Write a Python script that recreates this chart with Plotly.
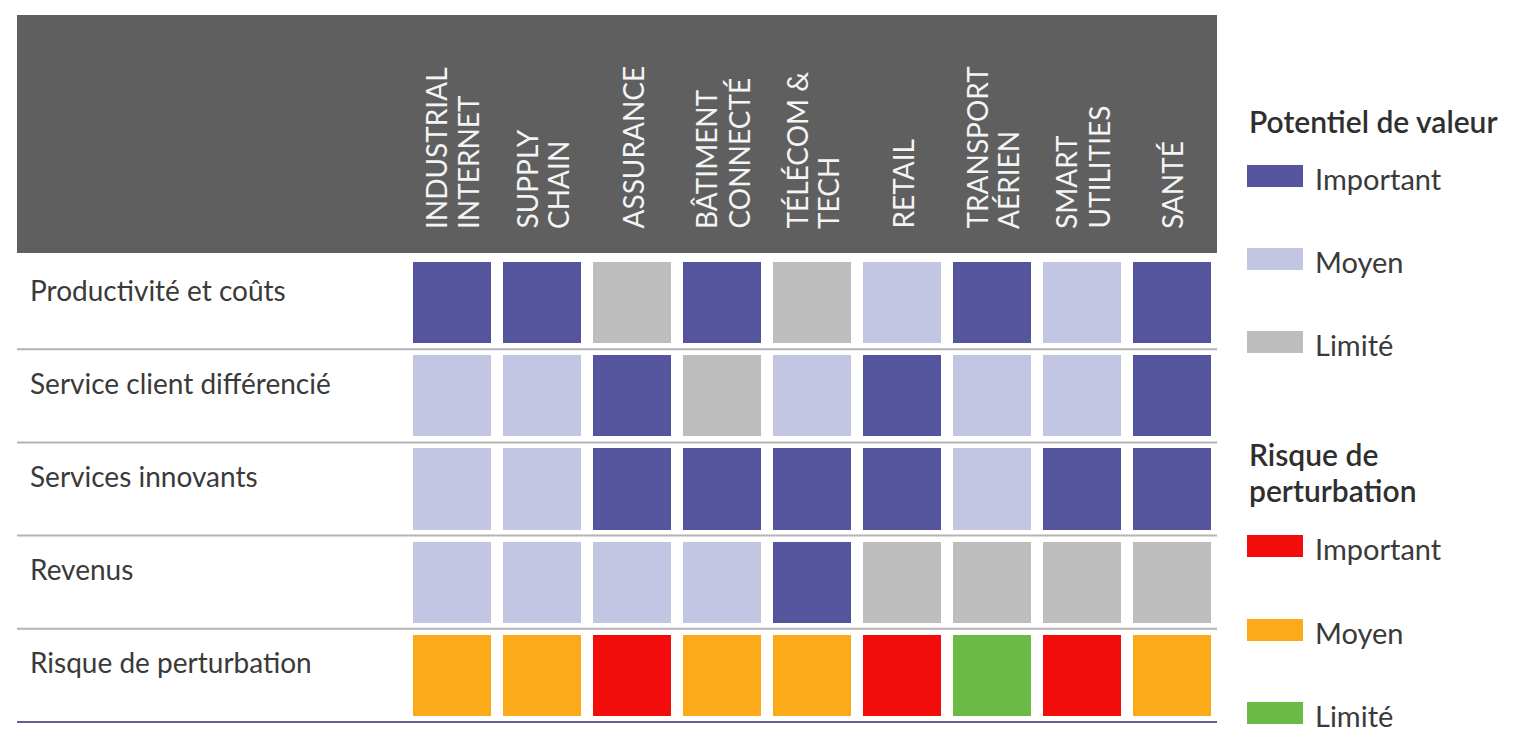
import plotly.graph_objects as go

# Secteurs (colonnes) et leviers de valeur (lignes)
secteurs = [
    "INDUSTRIAL<br>INTERNET",
    "SUPPLY<br>CHAIN",
    "ASSURANCE",
    "BÂTIMENT<br>CONNECTÉ",
    "TÉLÉCOM &<br>TECH",
    "RETAIL",
    "TRANSPORT<br>AÉRIEN",
    "SMART<br>UTILITIES",
    "SANTÉ",
]
leviers = [
    "Productivité et coûts",
    "Service client différencié",
    "Services innovants",
    "Revenus",
    "Risque de perturbation",
]

# Niveaux par ligne, dans l'ordre des secteurs
productivite = ["Important", "Important", "Limité", "Important", "Limité", "Moyen", "Important", "Moyen", "Important"]
service_client = ["Moyen", "Moyen", "Important", "Limité", "Moyen", "Important", "Moyen", "Moyen", "Important"]
services_innovants = ["Moyen", "Moyen", "Important", "Important", "Important", "Important", "Moyen", "Important", "Important"]
revenus = ["Moyen", "Moyen", "Moyen", "Moyen", "Important", "Limité", "Limité", "Limité", "Limité"]
risque = ["Moyen", "Moyen", "Important", "Moyen", "Moyen", "Important", "Limité", "Important", "Moyen"]

niveaux = ["Important", "Moyen", "Limité"]
couleurs_valeur = ["#55559e", "#c3c6e3", "#bdbdbd"]
couleurs_risque = ["#f20c0c", "#fbab1a", "#6bba45"]

# Codes : 0-2 potentiel de valeur, 3-5 risque de perturbation
lignes_valeur = [productivite, service_client, services_innovants, revenus]
z = [[niveaux.index(v) for v in ligne] for ligne in lignes_valeur]
z.append([3 + niveaux.index(v) for v in risque])

palette = couleurs_valeur + couleurs_risque
n = len(palette)
colorscale = []
for k, c in enumerate(palette):
    colorscale.append([k / n, c])
    colorscale.append([(k + 1) / n, c])

W, H = 1519, 735
ML, MR, MT, MB = 407, 302, 256, 12
PH = H - MT - MB


def px_to_paper_x(px):
    return (px - ML) / (W - ML - MR)


def px_to_paper_y(py):
    return (H - MB - py) / PH


fig = go.Figure(
    go.Heatmap(
        z=z,
        x=secteurs,
        y=leviers,
        colorscale=colorscale,
        zmin=0,
        zmax=n - 1,
        showscale=False,
        xgap=12,
        ygap=12,
        hoverinfo="skip",
    )
)

shapes = []
# Bandeau gris des en-têtes
shapes.append(dict(
    type="rect", xref="paper", yref="paper",
    x0=px_to_paper_x(17), x1=px_to_paper_x(1217),
    y0=px_to_paper_y(253), y1=px_to_paper_y(15),
    fillcolor="#5f5f5f", line=dict(width=0), layer="below",
))
# Séparateurs entre lignes
for i in range(1, len(leviers)):
    shapes.append(dict(
        type="line", xref="paper", yref="y",
        x0=px_to_paper_x(17), x1=px_to_paper_x(1217),
        y0=i - 0.5, y1=i - 0.5,
        line=dict(color="#b3b3b3", width=2), layer="below",
    ))
shapes.append(dict(
    type="line", xref="paper", yref="y",
    x0=px_to_paper_x(17), x1=px_to_paper_x(1217),
    y0=len(leviers) - 0.5, y1=len(leviers) - 0.5,
    line=dict(color="#5e6391", width=2), layer="below",
))

annotations = []
FONT = "Lato, 'Open Sans', sans-serif"
# Libellés des lignes
for lev in leviers:
    annotations.append(dict(
        text=lev, xref="paper", yref="y", x=px_to_paper_x(28), y=lev,
        xanchor="left", yanchor="middle", yshift=13, showarrow=False,
        font=dict(family=FONT, size=28, color="#3a3a3a"),
    ))
# En-têtes de colonnes verticaux, une annotation par ligne de texte
ECART = 32
for s in secteurs:
    morceaux = s.split("<br>")
    k = len(morceaux)
    for j, m in enumerate(morceaux):
        annotations.append(dict(
            text=m, xref="x", yref="paper", x=s, y=px_to_paper_y(231),
            xanchor="center", yanchor="bottom", textangle=-90,
            xshift=(j - (k - 1) / 2) * ECART, showarrow=False,
            font=dict(family=FONT, size=28, color="#f4f4f4"),
        ))

# Légende
def bloc_legende(titre_lignes, titre_y, swatch_y, couleurs):
    for t, ty in zip(titre_lignes, titre_y):
        annotations.append(dict(
            text=t, xref="paper", yref="paper",
            x=px_to_paper_x(1247), y=px_to_paper_y(ty),
            xanchor="left", yanchor="middle", showarrow=False,
            font=dict(family=FONT, size=30, color="#2f2f2f", weight=600),
        ))
    for niv, c, sy in zip(niveaux, couleurs, swatch_y):
        shapes.append(dict(
            type="rect", xref="paper", yref="paper",
            x0=px_to_paper_x(1247), x1=px_to_paper_x(1303),
            y0=px_to_paper_y(sy + 11), y1=px_to_paper_y(sy - 11),
            fillcolor=c, line=dict(width=0),
        ))
        annotations.append(dict(
            text=niv, xref="paper", yref="paper",
            x=px_to_paper_x(1313), y=px_to_paper_y(sy + 2),
            xanchor="left", yanchor="middle", showarrow=False,
            font=dict(family=FONT, size=29, color="#3a3a3a"),
        ))


bloc_legende(["Potentiel de valeur"], [121], [176, 259, 342], couleurs_valeur)
bloc_legende(["Risque de", "perturbation"], [454, 490], [546, 630, 713], couleurs_risque)

fig.update_layout(
    width=W, height=H,
    margin=dict(l=ML, r=MR, t=MT, b=MB, autoexpand=False),
    paper_bgcolor="white", plot_bgcolor="white",
    shapes=shapes, annotations=annotations,
    xaxis=dict(showticklabels=False, showgrid=False, zeroline=False, fixedrange=True),
    yaxis=dict(showticklabels=False, showgrid=False, zeroline=False,
               autorange="reversed", fixedrange=True),
    font=dict(family=FONT),
)

fig.write_html("out.html", config={"displayModeBar": False})
